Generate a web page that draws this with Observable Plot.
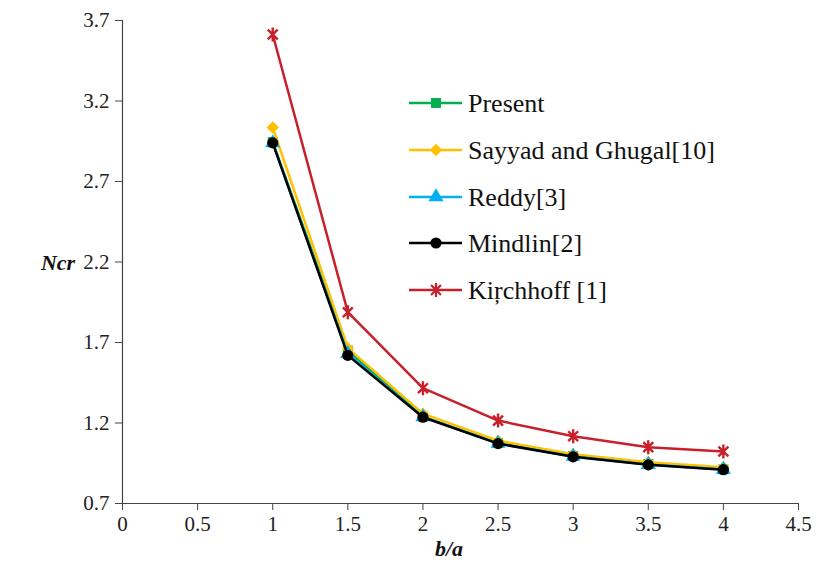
<!DOCTYPE html>
<html>
<head>
<meta charset="utf-8">
<script src="https://cdn.jsdelivr.net/npm/d3@7"></script>
<script src="https://cdn.jsdelivr.net/npm/@observablehq/plot@0.6"></script>
<style>
  html, body { margin: 0; padding: 0; background: #fff; }
  #chart { width: 819px; height: 576px; }
  #chart svg text { font-family: "Liberation Serif", "Times New Roman", serif !important; }
</style>
</head>
<body>
<div id="chart"></div>
<script>
// ---- data ----
const ratios = [1, 1.5, 2, 2.5, 3, 3.5, 4];
const present   = [2.945, 1.650, 1.240, 1.075, 0.995, 0.945, 0.912];
const sayyad    = [3.035, 1.665, 1.258, 1.090, 1.006, 0.956, 0.925];
const reddy     = [2.940, 1.630, 1.238, 1.073, 0.992, 0.942, 0.911];
const mindlin   = [2.940, 1.620, 1.236, 1.072, 0.990, 0.940, 0.910];
const kirchhoff = [3.613, 1.888, 1.416, 1.215, 1.118, 1.050, 1.023];
const seriesNames = ["Present", "Sayyad and Ghugal[10]", "Reddy[3]", "Mindlin[2]", "Kir\u0327chhoff [1]"];
const xTicks = [0, 0.5, 1, 1.5, 2, 2.5, 3, 3.5, 4, 4.5];
const yTicks = [0.7, 1.2, 1.7, 2.2, 2.7, 3.2, 3.7];

// ---- styles ----
const starSymbol = {
  draw(ctx, size) {
    const r = Math.sqrt(size / Math.PI);
    const d = r * Math.SQRT1_2;
    ctx.moveTo(0, -r); ctx.lineTo(0, r);
    ctx.moveTo(-d, -d); ctx.lineTo(d, d);
    ctx.moveTo(-d, d); ctx.lineTo(d, -d);
  }
};
const styles = [
  {color: "#00b050", symbol: "square", r: 5.6, filled: true},
  {color: "#ffc000", symbol: "diamond2", r: 5.6, filled: true},
  {color: "#00b0f0", symbol: "triangle", r: 5.6, filled: true},
  {color: "#000000", symbol: "circle", r: 5.6, filled: true},
  {color: "#c8202a", symbol: starSymbol, r: 7, filled: false}
];
const values = [present, sayyad, reddy, mindlin, kirchhoff];
const table = values.map((vals, i) => ratios.map((x, j) => ({series: seriesNames[i], x, y: vals[j]})));

const marks = [
  Plot.axisX({ticks: xTicks, tickSize: 7, tickPadding: 6, label: null, tickFormat: d => String(d), fontSize: 21, stroke: "#444"}),
  Plot.axisY({ticks: yTicks, tickSize: 7, tickPadding: 6, label: null, tickFormat: d => d.toFixed(1), fontSize: 21, stroke: "#444"}),
  Plot.ruleX([0], {stroke: "#444", strokeWidth: 1.2}),
  Plot.ruleY([0.7], {stroke: "#444", strokeWidth: 1.2})
];
table.forEach((rows, i) => {
  const s = styles[i];
  marks.push(Plot.line(rows, {x: "x", y: "y", stroke: s.color, strokeWidth: 2.5}));
  if (s.filled) {
    marks.push(Plot.dot(rows, {x: "x", y: "y", symbol: () => s.symbol, r: s.r, fill: s.color, stroke: "none"}));
  } else {
    marks.push(Plot.dot(rows, {x: "x", y: "y", symbol: () => s.symbol, r: s.r, fill: "none", stroke: s.color, strokeWidth: 2.4}));
  }
});

const chart = Plot.plot({
  width: 819,
  height: 576,
  marginLeft: 122,
  marginRight: 21,
  marginTop: 20,
  marginBottom: 73,
  x: {domain: [0, 4.5]},
  y: {domain: [0.7, 3.7]},
  symbol: {type: "identity"},
  style: {fontFamily: "Liberation Serif, Times New Roman, serif", fontSize: "21px", color: "#222", background: "#fff"},
  marks
});
document.getElementById("chart").appendChild(chart);

// ---- axis titles and legend (layout only) ----
const svg = d3.select(chart);
svg.append("text").text("Ncr")
  .attr("x", 58).attr("y", 262).attr("dy", "0.35em")
  .attr("text-anchor", "middle")
  .style("font-weight", "bold").style("font-style", "italic")
  .style("font-size", "22px").attr("fill", "#111");
svg.append("text").text("b/a")
  .attr("x", 449).attr("y", 548).attr("dy", "0.35em")
  .attr("text-anchor", "middle")
  .style("font-weight", "bold").style("font-style", "italic")
  .style("font-size", "22px").attr("fill", "#111");

const legendY = [103, 150, 197, 243, 290];
const lg = svg.append("g").attr("text-anchor", "start");
seriesNames.forEach((name, i) => {
  const s = styles[i];
  const y = legendY[i];
  lg.append("line").attr("x1", 409).attr("x2", 462).attr("y1", y).attr("y2", y)
    .attr("stroke", s.color).attr("stroke-width", 2.5);
  const symType = typeof s.symbol === "string"
    ? {square: d3.symbolSquare, diamond2: d3.symbolDiamond2, triangle: d3.symbolTriangle, circle: d3.symbolCircle}[s.symbol]
    : s.symbol;
  const p = lg.append("path")
    .attr("d", d3.symbol(symType, Math.PI * s.r * s.r)())
    .attr("transform", `translate(436,${y})`);
  if (s.filled) p.attr("fill", s.color);
  else p.attr("fill", "none").attr("stroke", s.color).attr("stroke-width", 2.2);
  lg.append("text").text(name)
    .attr("x", 468).attr("y", y).attr("dy", "0.35em")
    .attr("text-anchor", "start")
    .style("font-size", "26px").attr("fill", "#111");
});
</script>
</body>
</html>
